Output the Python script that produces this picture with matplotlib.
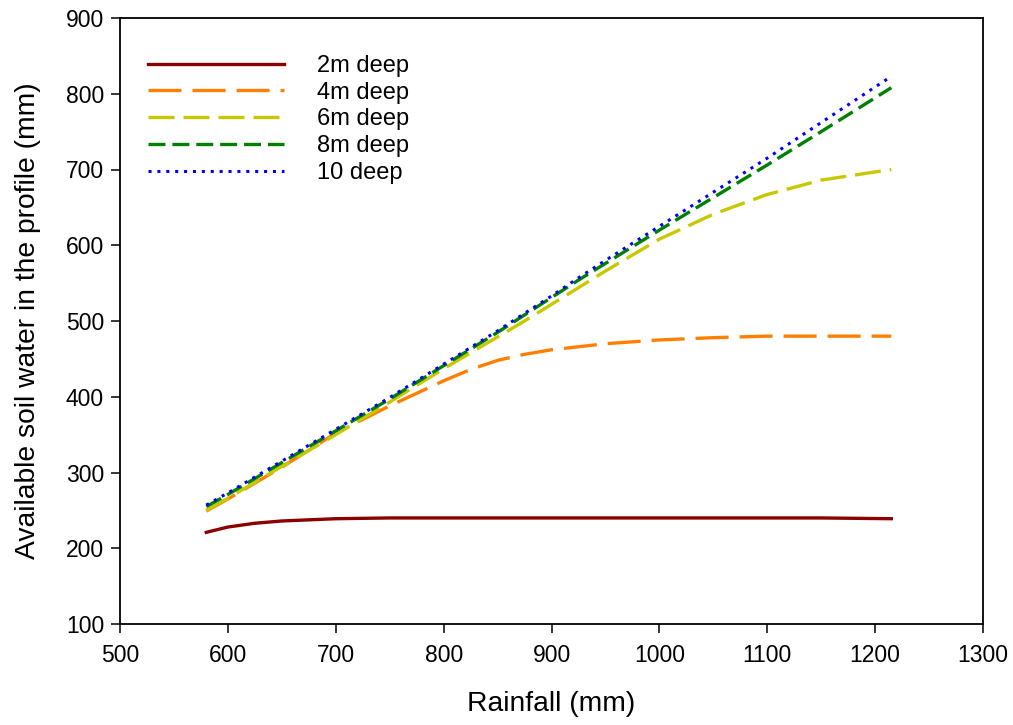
import matplotlib
matplotlib.use("Agg")
import matplotlib.pyplot as plt

plt.rcParams['font.family'] = ['Liberation Sans', 'DejaVu Sans']
plt.rcParams['lines.scale_dashes'] = False

rain = [580, 600, 625, 650, 700, 750, 800, 825, 850, 875, 900, 925, 950, 1000, 1050, 1100, 1150, 1215]
d2 = [221, 228, 233, 236, 239, 240, 240, 240, 240, 240, 240, 240, 240, 240, 240, 240, 240, 239]
d4 = [249, 265, 286, 307, 352, 388, 421, 436, 448, 456, 462, 466, 470, 475, 478, 480, 480, 480]
d6 = [250, 266, 287, 308, 350, 393, 437, 458, 479, 500, 522, 544, 566, 608, 641, 667, 686, 700]
d8 = [255, 271, 292, 313, 355, 397, 441, 463, 485, 508, 531, 554, 576, 620, 663, 706, 750, 808]
d10 = [257, 273, 294, 315, 357, 399, 443, 465, 487, 510, 533, 557, 580, 625, 670, 715, 762, 823]
labels = ['2m deep', '4m deep', '6m deep', '8m deep', '10 deep']

fig = plt.figure(figsize=(10.13, 7.25), dpi=100)
ax = fig.add_axes([120 / 1013, 101 / 725, 863 / 1013, 606 / 725])

lw = 2.4
ax.plot(rain, d2, color='#8B0000', lw=lw, label=labels[0])
ax.plot(rain, d4, color='#FF8000', lw=lw, dashes=(23.8, 7.9), label=labels[1])
ax.plot(rain, d6, color='#C8C800', lw=lw, dashes=(18.7, 6.5), label=labels[2])
ax.plot(rain, d8, color='#008000', lw=lw, dashes=(12.2, 5.0), label=labels[3])
ax.plot(rain, d10, color='#0000FF', lw=2.2, dashes=(2.2, 4.2), dash_capstyle='butt', label=labels[4])

ax.set_xlim(500, 1300)
ax.set_ylim(100, 900)
ax.set_xticks(range(500, 1301, 100))
ax.set_yticks(range(100, 901, 100))
ax.tick_params(direction='out', length=6.5, width=1.1, labelsize=16.5, pad=5)
ax.tick_params(axis='x', pad=8)
for s in ax.spines.values():
    s.set_linewidth(1.3)

ax.set_xlabel('Rainfall (mm)', fontsize=20.3, labelpad=17)
ax.set_ylabel('Available soil water in the profile (mm)', fontsize=20.3, labelpad=18)

ax.legend(loc='upper left', frameon=False, fontsize=17, handlelength=5.76,
          handletextpad=1.4, labelspacing=0.2, borderpad=0, borderaxespad=0,
          bbox_to_anchor=(0.0324, 0.939))

fig.savefig('out.png', dpi=100)
